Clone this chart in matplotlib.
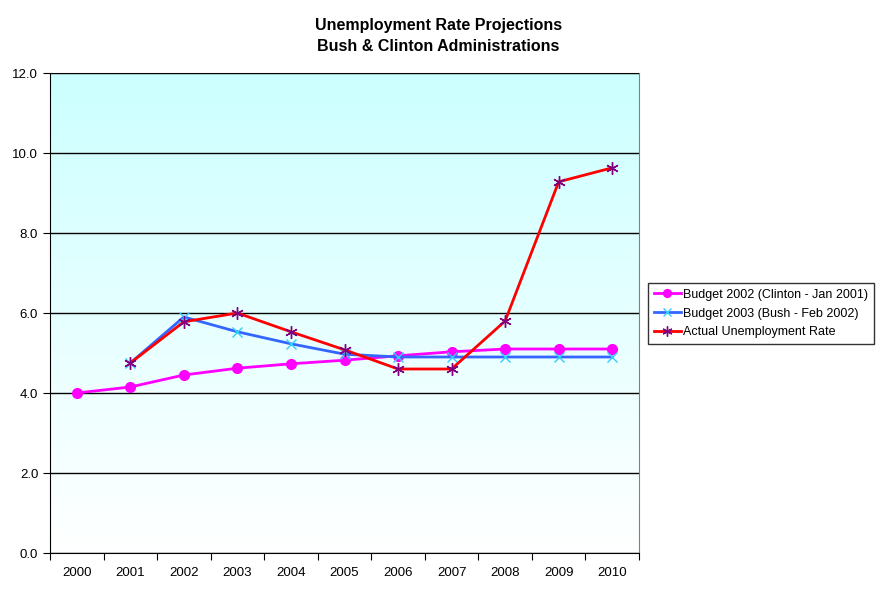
import matplotlib
matplotlib.use("Agg")
import matplotlib.pyplot as plt
import numpy as np

plt.rcParams['font.family'] = ['Liberation Sans', 'DejaVu Sans']

years = ['2000', '2001', '2002', '2003', '2004', '2005', '2006', '2007', '2008', '2009', '2010']
clinton_2002 = [4.0, 4.15, 4.45, 4.62, 4.73, 4.82, 4.93, 5.03, 5.1, 5.1, 5.1]
bush_2003 = [None, 4.75, 5.9, 5.53, 5.23, 4.97, 4.9, 4.9, 4.9, 4.9, 4.9]
actual = [None, 4.75, 5.78, 6.0, 5.53, 5.08, 4.6, 4.6, 5.8, 9.28, 9.63]
y_ticks = [0, 2, 4, 6, 8, 10, 12]

def to_arr(v):
    return np.array([np.nan if a is None else a for a in v], dtype=float)

fig = plt.figure(figsize=(8.77, 5.92), dpi=100)
ax = fig.add_axes([50/877, 39/592, 589/877, 480/592])

# gradient background
grad = np.linspace(0, 1, 256).reshape(-1, 1)
top = np.array([0.80, 1.0, 1.0])
bot = np.array([1.0, 1.0, 1.0])
img = top[None, None, :] * (1 - grad[:, :, None]) + bot[None, None, :] * grad[:, :, None]
ax.imshow(img, extent=[0, 1, 0, 1], transform=ax.transAxes, aspect='auto', zorder=0)

x = np.arange(len(years))
ax.plot(x, to_arr(clinton_2002), color='#ff00ff', lw=2, marker='o', ms=7,
        mfc='#ff00ff', mec='#ff00ff', label='Budget 2002 (Clinton - Jan 2001)', zorder=3)
ax.plot(x, to_arr(bush_2003), color='#3366ff', lw=2, marker='x', ms=7, mew=1,
        mec='#33ccff', label='Budget 2003 (Bush - Feb 2002)', zorder=3)
ax.plot(x, to_arr(actual), color='#ff0000', lw=2, marker=(6, 2, 0), ms=9, mew=1,
        mec='#800080', label='Actual Unemployment Rate', zorder=4)

ax.set_xlim(-0.5, len(years) - 0.5)
ax.set_ylim(0, 12)
ax.set_yticks(y_ticks)
ax.set_yticklabels([f'{v:.1f}' for v in y_ticks], fontsize=9.5)
ax.yaxis.grid(True, color='black', lw=1)
ax.set_axisbelow(False)
for l in ax.get_ygridlines():
    l.set_zorder(1)

ax.set_xticks(np.arange(-0.5, len(years), 1.0))
ax.set_xticklabels([])
ax.set_xticks(x, minor=True)
ax.set_xticklabels(years, minor=True, fontsize=9.5)
ax.tick_params(axis='x', which='minor', length=0, pad=10)
ax.tick_params(axis='x', which='major', length=5, direction='out')
ax.tick_params(axis='y', length=5, direction='out')

ax.spines['top'].set_color('#808080')
ax.spines['right'].set_color('#808080')
ax.spines['left'].set_color('black')
ax.spines['bottom'].set_color('black')

fig.text(0.5, 1 - 36/592, 'Unemployment Rate Projections\nBush & Clinton Administrations',
         ha='center', va='center', fontsize=11.5, fontweight='bold', linespacing=1.45)

leg = fig.legend(loc='upper left', bbox_to_anchor=(648/877, 1 - 283/592), fontsize=9,
                 frameon=True, fancybox=False, edgecolor='black', borderpad=0.45,
                 borderaxespad=0, handlelength=2.2, handletextpad=0.15, labelspacing=0.55,
                 markerscale=0.8)
leg.get_frame().set_linewidth(1)

fig.savefig('out.png', dpi=100)
